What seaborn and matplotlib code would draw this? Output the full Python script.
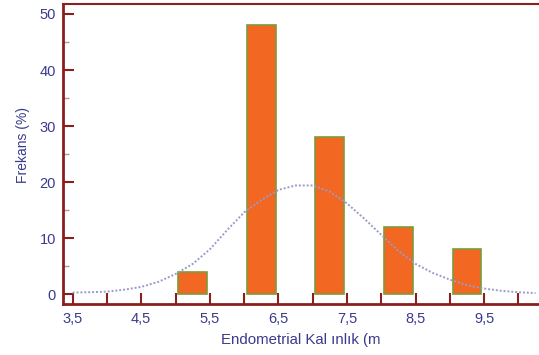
import matplotlib
matplotlib.use("Agg")
import matplotlib.pyplot as plt
import seaborn as sns
import pandas as pd

# histogram bars (bin centre, frequency %)
bin_centers = [5.25, 6.25, 7.25, 8.25, 9.25]
frekans = [4, 48, 28, 12, 8]

# fitted normal curve
curve_x = [3.5, 3.75, 4.0, 4.25, 4.5, 4.75, 5.0, 5.25, 5.5, 5.75, 6.0, 6.25, 6.5,
           6.75, 7.0, 7.25, 7.5, 7.75, 8.0, 8.25, 8.5, 8.75, 9.0, 9.25, 9.5,
           9.75, 10.0, 10.25]
curve_y = [0.3, 0.35, 0.45, 0.8, 1.3, 2.2, 3.6, 5.4, 8.0, 11.4, 14.6, 16.8, 18.6,
           19.4, 19.4, 18.3, 16.2, 13.5, 10.6, 7.7, 5.4, 3.8, 2.6, 1.6, 1.0,
           0.6, 0.35, 0.2]

x_ticks = [3.5, 4.5, 5.5, 6.5, 7.5, 8.5, 9.5]
x_labels = ["3,5", "4,5", "5,5", "6,5", "7,5", "8,5", "9,5"]

sns.set_style("white")
plt.rcParams["font.family"] = ["Liberation Sans", "DejaVu Sans"]

spine_col = "#8B1E1E"
text_col = "#3A3A8E"

fig = plt.figure(figsize=(5.39, 3.55), dpi=100)
ax = fig.add_axes([0.117, 0.144, 0.883, 0.845])

bars = pd.DataFrame({"x": bin_centers, "y": frekans})
sns.barplot(data=bars, x="x", y="y", native_scale=True, width=0.42,
            color="#F26722", edgecolor="#7E9A3A", linewidth=1.2,
            saturation=1, ax=ax, zorder=2)

curve = pd.DataFrame({"x": curve_x, "y": curve_y})
sns.lineplot(data=curve, x="x", y="y", ax=ax, color="#9A9ACC",
             linestyle=(0, (1, 1)), linewidth=1.4, zorder=3)

ax.set_xlim(3.36, 10.3)
ax.set_ylim(-1.73, 51.8)

ax.set_xticks(x_ticks)
ax.set_xticklabels(x_labels)
ax.set_xticks([4.0, 5.0, 6.0, 7.0, 8.0, 9.0, 10.0], minor=True)
ax.set_yticks([0, 10, 20, 30, 40, 50])
ax.set_yticks([5, 15, 25, 35, 45], minor=True)

ax.tick_params(bottom=True, left=True, which="both")
ax.tick_params(axis="both", which="major", direction="in", length=8,
               width=1.5, color=spine_col, labelcolor=text_col,
               labelsize=10.5, pad=5)
ax.tick_params(axis="x", which="minor", direction="in", length=8,
               width=1.5, color=spine_col)
ax.tick_params(axis="y", which="minor", direction="in", length=4,
               width=1.0, color="#B89090")
ax.tick_params(axis="x", which="major", pad=6)

for side in ["left", "bottom"]:
    ax.spines[side].set_color(spine_col)
    ax.spines[side].set_linewidth(2)
ax.spines["top"].set_color(spine_col)
ax.spines["top"].set_linewidth(1.5)
ax.spines["right"].set_visible(False)

ax.set_xlabel("Endometrial Kal ınlık (m", color=text_col, fontsize=10.8, labelpad=5)
ax.set_ylabel("Frekans (%)", color=text_col, fontsize=10, labelpad=7, y=0.53)

fig.savefig("out.png", dpi=100)
